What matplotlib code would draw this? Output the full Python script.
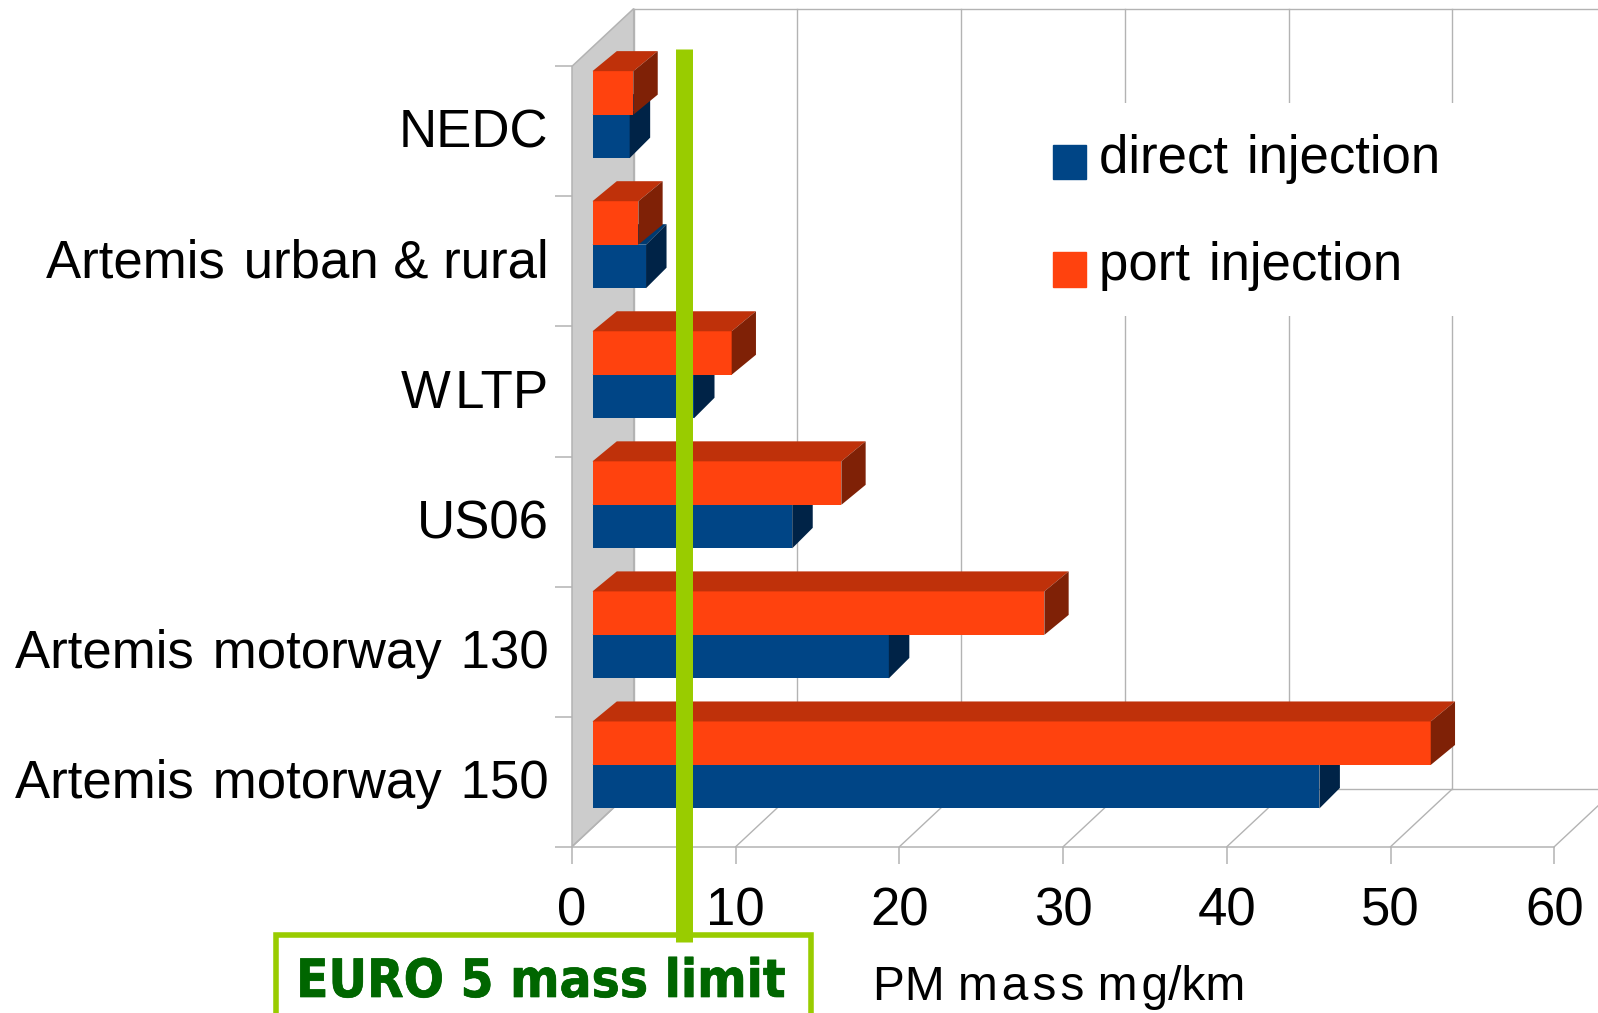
import matplotlib
matplotlib.use("Agg")
import matplotlib.pyplot as plt
import matplotlib.patheffects as path_effects
from matplotlib.patches import Patch, Polygon, Rectangle
from matplotlib.transforms import Affine2D, blended_transform_factory

# PM mass by driving cycle, mg/km
categories = ["NEDC", "Artemis\u200a urban & rural", "W\u200aLTP", "US06",
              "Artemis\u200a motorway\u200a 130", "Artemis\u200a motorway\u200a 150"]
direct_injection = [2.27, 3.27, 6.2, 12.2, 18.1, 44.4]
port_injection = [2.5, 2.8, 8.5, 15.2, 27.6, 51.2]
euro5_limit = 6.87
x_ticks = [0, 10, 20, 30, 40, 50, 60]

WIDTH, HEIGHT = 1598, 1013
X0, X60 = 572.0, 1554.3
Y_TOP, Y_BOTTOM = 66.3, 846.7
WALL_DX, WALL_DY = 61.7, 57.7
GREY = "#b3b3b3"
LIME = "#99cc00"

plt.rcParams["font.family"] = ["Liberation Sans", "DejaVu Sans"]
fig = plt.figure(figsize=(WIDTH / 100, HEIGHT / 100), dpi=100, facecolor="white")
ax = fig.add_axes([X0 / WIDTH, 1 - Y_BOTTOM / HEIGHT,
                   (X60 - X0) / WIDTH, (Y_BOTTOM - Y_TOP) / HEIGHT])
ax.set_xlim(0, 60)
ax.set_ylim(0, 6)
ax.patch.set_visible(False)

PX_X = (X60 - X0) / 60
PX_Y = (Y_BOTTOM - Y_TOP) / 6
wall_dx = WALL_DX / PX_X
wall_dy = WALL_DY / PX_Y

# Side wall and the lines of the back plane and floor
ax.add_patch(Polygon([(0, 0), (wall_dx, wall_dy), (wall_dx, 6 + wall_dy), (0, 6)],
                     closed=True, facecolor="#cccccc", edgecolor=GREY, lw=1.1,
                     clip_on=False, zorder=1))
line_style = dict(color=GREY, lw=1.0, clip_on=False, zorder=1)
for tick in x_ticks:
    ax.plot([tick + wall_dx] * 2, [wall_dy, 6 + wall_dy], **line_style)
    ax.plot([tick, tick + wall_dx], [0, wall_dy], **line_style)
ax.plot([wall_dx, 68], [wall_dy, wall_dy], **line_style)
ax.plot([wall_dx, 68], [6 + wall_dy, 6 + wall_dy], **line_style)

for side in ("top", "right", "left"):
    ax.spines[side].set_visible(False)
ax.spines["bottom"].set_color(GREY)
ax.spines["bottom"].set_linewidth(1.1)

# Bars stand a little way back from the front edge of the floor
bar_shift = ax.transData + Affine2D().translate(20.5, 16.7)
BAR_H = 43.5 / PX_Y
centers = [5.5 - i for i in range(len(categories))]


def draw_bars(values, bottoms, front, top, side, depth_px, order):
    dx, dy = depth_px[0] / PX_X, depth_px[1] / PX_Y
    ax.barh(bottoms, values, height=BAR_H, align="edge", color=front, linewidth=0,
            transform=bar_shift, clip_on=False, zorder=order)
    for value, low in zip(values, bottoms):
        high = low + BAR_H
        ax.add_patch(Polygon([(0, high), (value, high), (value + dx, high + dy), (dx, high + dy)],
                             closed=True, facecolor=top, edgecolor="none",
                             transform=bar_shift, clip_on=False, zorder=order))
        ax.add_patch(Polygon([(value, low), (value, high), (value + dx, high + dy), (value + dx, low + dy)],
                             closed=True, facecolor=side, edgecolor="none",
                             transform=bar_shift, clip_on=False, zorder=order))


draw_bars(direct_injection, [c - BAR_H for c in centers],
          "#004586", "#003a70", "#002347", (20.5, 20.5), 3)
draw_bars(port_injection, centers,
          "#ff420e", "#bf310a", "#7f2106", (24.3, 20.0), 4)

# Axis ticks and labels
ax.set_xticks(x_ticks)
ax.tick_params(axis="x", length=12, width=1.1, color=GREY, pad=16.5, labelsize=38, labelcolor="black")
ax.set_yticks(range(7))
ax.set_yticklabels([])
ax.tick_params(axis="y", which="major", length=12, width=1.1, color=GREY)
ax.set_yticks([c + 3.0 / PX_Y for c in centers], minor=True)
ax.set_yticklabels(categories, minor=True)
ax.tick_params(axis="y", which="minor", length=0, pad=17, labelsize=38, labelcolor="black")

ax.set_xlabel("PM m\u200aa\u200as\u200as m\u200ag/km", fontsize=34.5, ha="left", va="center")
ax.xaxis.set_label_coords((873 - X0) / (X60 - X0), (Y_BOTTOM - 988) / (Y_BOTTOM - Y_TOP))

# White panel behind the legend interrupts the back-plane lines
ax.add_patch(Rectangle((1040 / WIDTH, 1 - 316 / HEIGHT), 430 / WIDTH, 213 / HEIGHT,
                       facecolor="white", edgecolor="none", transform=fig.transFigure,
                       clip_on=False, zorder=2))
legend = fig.legend(handles=[Patch(color="#004586", label="direct\u200a injection"),
                             Patch(color="#ff420e", label="port\u200a injection")],
                    loc="upper left", bbox_to_anchor=(1013.5 / WIDTH, 1 - 102 / HEIGHT),
                    fontsize=38, frameon=False,
                    handlelength=0.625, handleheight=0.625, handletextpad=0.24,
                    labelspacing=1.09, borderpad=0.75, borderaxespad=0)
# Legend text sits slightly above the centre of its colour square
for label in legend.get_texts():
    label.set_y(8)

# EURO 5 limit marker and its caption
limit_transform = blended_transform_factory(ax.transData, ax.transAxes)
ax.plot([euro5_limit, euro5_limit], [-0.1217, 1.0222], color=LIME, lw=12.24,
        solid_capstyle="butt", transform=limit_transform, clip_on=False, zorder=6)
fig.add_artist(Rectangle((275.5 / WIDTH, -0.05), (811 - 275.5) / WIDTH, 1 - 935 / HEIGHT + 0.05,
                         facecolor="white", edgecolor=LIME, lw=4.0,
                         transform=fig.transFigure, zorder=-1))
fig.text(541 / WIDTH, 1 - 982 / HEIGHT, "EURO 5 mass limit", ha="center", va="center",
         family="DejaVu Sans", weight="bold", stretch="condensed", fontsize=38, color="#006600",
         path_effects=[path_effects.withStroke(linewidth=0.5, foreground="#006600")])

fig.savefig("out.png", dpi=100)
